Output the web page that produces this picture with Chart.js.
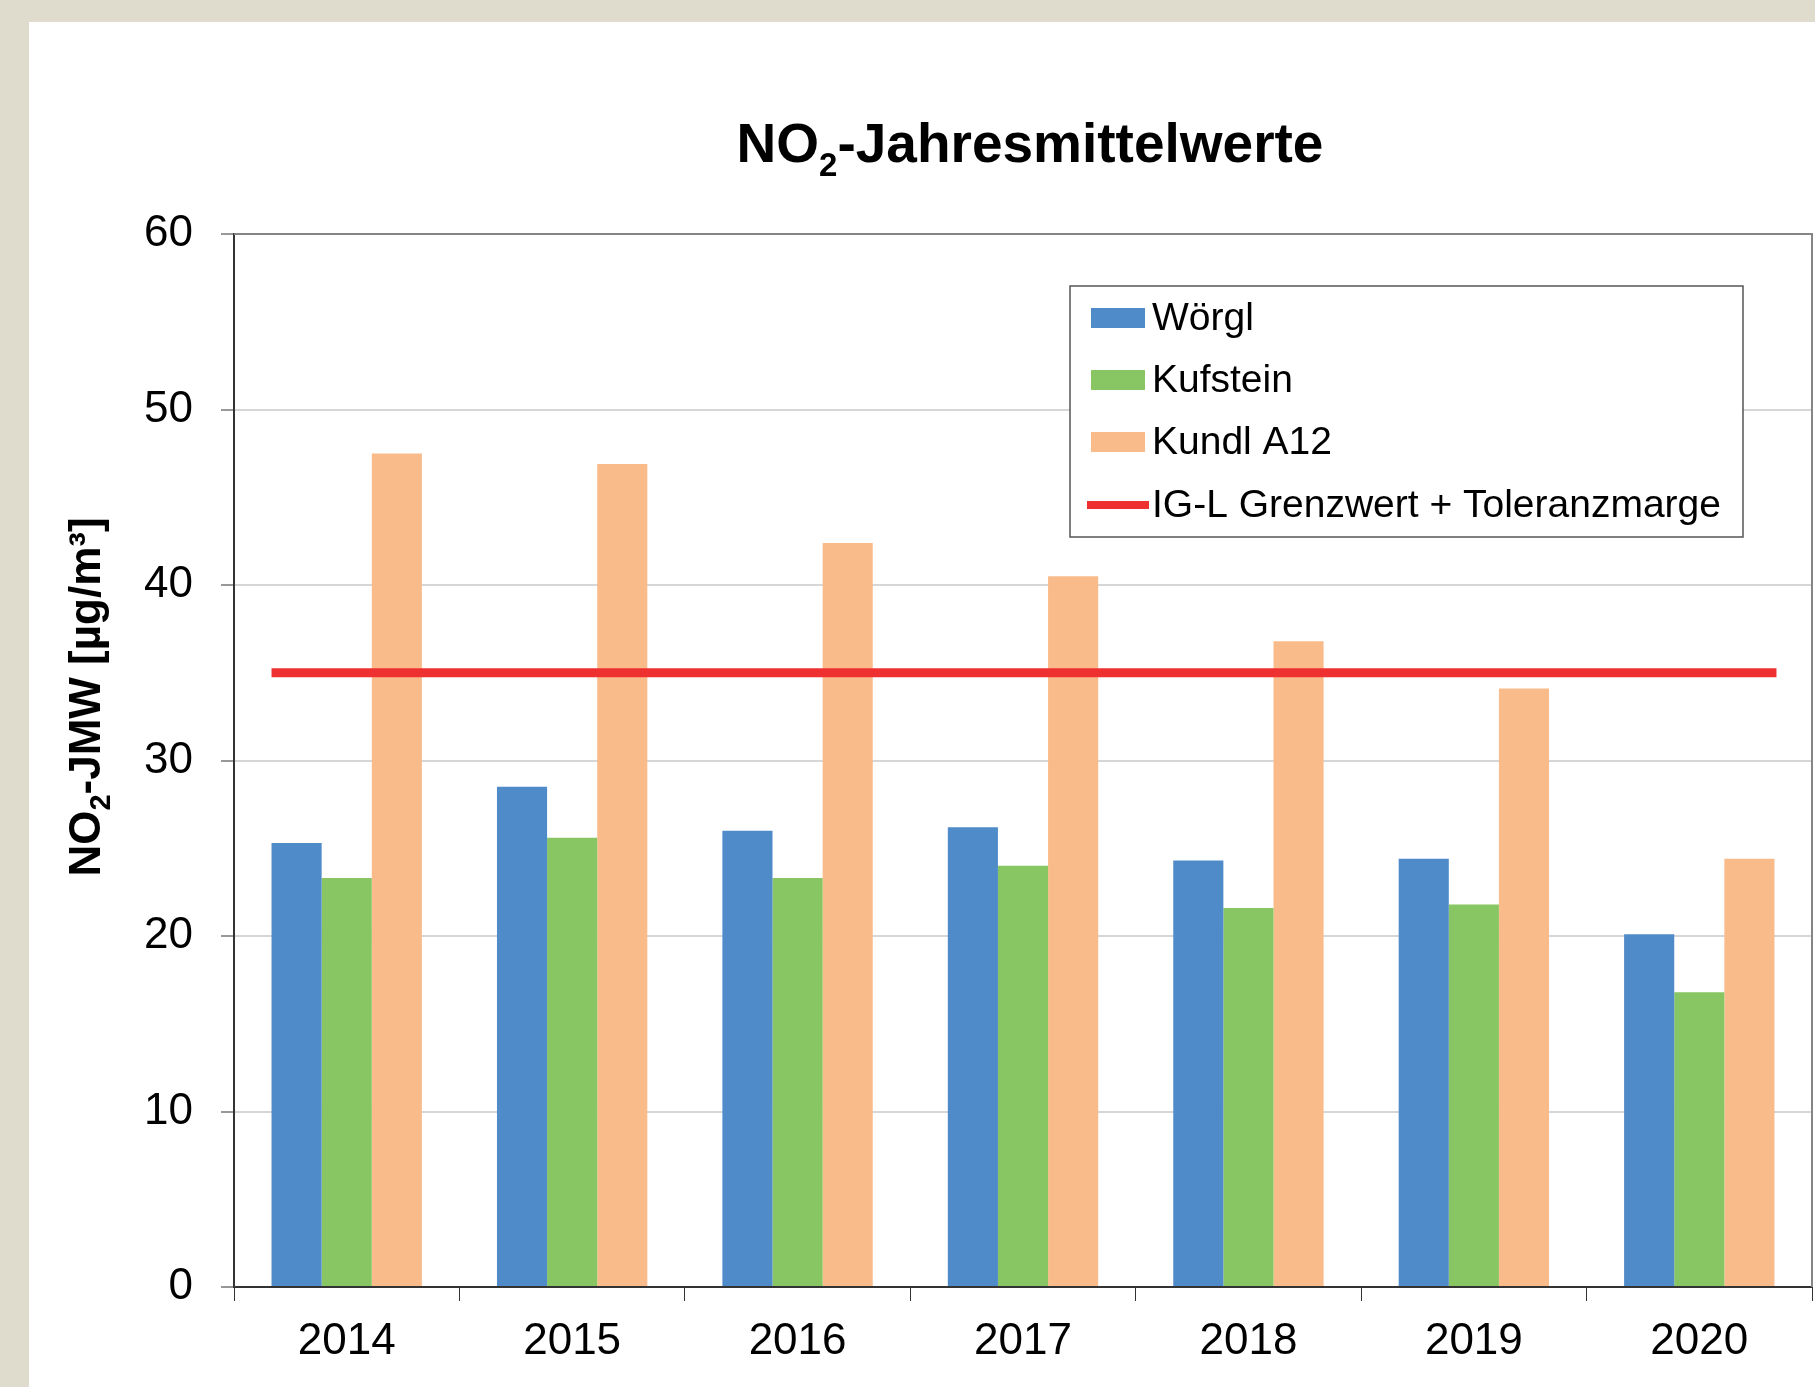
<!DOCTYPE html>
<html>
<head>
<meta charset="utf-8">
<script src="https://cdn.jsdelivr.net/npm/chart.js@4.4.1/dist/chart.umd.min.js"></script>
<style>
  html, body { margin: 0; padding: 0; background: #dfdcce; width: 1815px; height: 1387px; overflow: hidden; }
  #sheet { position: absolute; left: 29px; top: 22px; width: 1786px; height: 1365px; background: #fff; }
  canvas { display: block; }
</style>
</head>
<body>
<div id="sheet"><canvas id="no2" width="1786" height="1365"></canvas></div>
<script>
// Daten
const years = ["2014", "2015", "2016", "2017", "2018", "2019", "2020"];
const woergl = [25.3, 28.5, 26.0, 26.2, 24.3, 24.4, 20.1];
const kufstein = [23.3, 25.6, 23.3, 24.0, 21.6, 21.8, 16.8];
const kundl = [47.5, 46.9, 42.4, 40.5, 36.8, 34.1, 24.4];
const grenzwert = 35;
const grenzwertLabel = "IG-L Grenzwert + Toleranzmarge";
const yMin = 0, yMax = 60, yStep = 10;

const FONT = "'Liberation Sans', Arial, sans-serif";
const RED = "#ee3030";

// Titel mit tiefgestellter 2, Achsentitel gedreht
const titlePlugin = {
  id: "no2Title",
  afterDraw(chart) {
    const ctx = chart.ctx;
    ctx.save();
    ctx.fillStyle = "#000";
    ctx.textBaseline = "alphabetic";
    const big = "bold 55px " + FONT, small = "bold 33px " + FONT;
    const parts = [["NO", big, 0], ["2", small, 14], ["-Jahresmittelwerte", big, 0]];
    let w = 0;
    parts.forEach(p => { ctx.font = p[1]; w += ctx.measureText(p[0]).width; });
    let x = 1001 - w / 2;
    parts.forEach(p => {
      ctx.font = p[1];
      ctx.fillText(p[0], x, 140 + p[2]);
      x += ctx.measureText(p[0]).width;
    });

    const ybig = "bold 44px " + FONT, ysmall = "bold 29px " + FONT;
    const yparts = [["NO", ybig, 0], ["2", ysmall, 10], ["-JMW [µg/m³]", ybig, 0]];
    let yw = 0;
    yparts.forEach(p => { ctx.font = p[1]; yw += ctx.measureText(p[0]).width; });
    ctx.translate(71, 675);
    ctx.rotate(-Math.PI / 2);
    let px = -yw / 2;
    yparts.forEach(p => {
      ctx.font = p[1];
      ctx.fillText(p[0], px, p[2]);
      px += ctx.measureText(p[0]).width;
    });
    ctx.restore();
  }
};

// Rahmen oben/rechts + Grenzwertlinie
const framePlugin = {
  id: "frame",
  afterDatasetsDraw(chart) {
    const { ctx, chartArea: a, scales } = chart;
    ctx.save();
    ctx.strokeStyle = "#858585";
    ctx.lineWidth = 2;
    ctx.beginPath();
    ctx.moveTo(a.left, a.top);
    ctx.lineTo(a.right, a.top);
    ctx.lineTo(a.right, a.bottom);
    ctx.stroke();

    // Grenzwert: vom ersten bis zum letzten Balken
    const first = chart.getDatasetMeta(0).data[0];
    const lastMeta = chart.getDatasetMeta(chart.data.datasets.length - 1);
    const last = lastMeta.data[lastMeta.data.length - 1];
    const y = scales.y.getPixelForValue(grenzwert);
    ctx.strokeStyle = RED;
    ctx.lineWidth = 9;
    ctx.beginPath();
    ctx.moveTo(first.x - first.width / 2, y);
    ctx.lineTo(last.x + last.width / 2 + 2, y);
    ctx.stroke();
    ctx.restore();
  }
};

// Legende im Diagramm
const legendPlugin = {
  id: "boxLegend",
  afterDraw(chart) {
    const { ctx, chartArea: a } = chart;
    const bx = a.right - 742, by = a.top + 52, bw = 673, bh = 251;
    ctx.save();
    ctx.fillStyle = "#fff";
    ctx.fillRect(bx, by, bw, bh);
    ctx.strokeStyle = "#555";
    ctx.lineWidth = 1.5;
    ctx.strokeRect(bx, by, bw, bh);
    ctx.font = "39px " + FONT;
    ctx.textBaseline = "middle";
    const rows = [32, 94, 156, 219];
    chart.data.datasets.forEach((ds, i) => {
      const cy = by + rows[i];
      ctx.fillStyle = ds.backgroundColor;
      ctx.fillRect(bx + 21, cy - 10, 54, 20);
      ctx.fillStyle = "#000";
      ctx.fillText(ds.label, bx + 82, cy + 1);
    });
    const cy = by + rows[3];
    ctx.fillStyle = RED;
    ctx.fillRect(bx + 17, cy - 4, 62, 8);
    ctx.fillStyle = "#000";
    ctx.fillText(grenzwertLabel, bx + 82, cy + 1);
    ctx.restore();
  }
};

new Chart(document.getElementById("no2"), {
  type: "bar",
  data: {
    labels: years,
    datasets: [
      { label: "Wörgl", data: woergl, backgroundColor: "#4f8ac9" },
      { label: "Kufstein", data: kufstein, backgroundColor: "#88c663" },
      { label: "Kundl A12", data: kundl, backgroundColor: "#fabb8b" }
    ]
  },
  options: {
    responsive: false,
    animation: false,
    layout: { padding: { top: 212, right: 3, left: 0, bottom: 0 } },
    datasets: { bar: { categoryPercentage: 0.667, barPercentage: 1.0, borderWidth: 0 } },
    plugins: {
      legend: { display: false },
      title: { display: false },
      tooltip: { enabled: false }
    },
    scales: {
      x: {
        offset: true,
        grid: { offset: true, drawOnChartArea: false, drawTicks: true, tickLength: 14, tickColor: "#333", tickWidth: 1 },
        border: { display: true, color: "#333", width: 2 },
        ticks: { color: "#000", font: { family: FONT, size: 44 }, padding: 14, maxRotation: 0 },
        afterFit: (s) => { s.height = 100; }
      },
      y: {
        min: yMin,
        max: yMax,
        grid: { color: "#d6d6d6", lineWidth: 2, drawTicks: true, tickLength: 13, tickColor: "#333", tickWidth: 1 },
        border: { display: true, color: "#333", width: 2 },
        ticks: { stepSize: yStep, color: "#000", font: { family: FONT, size: 44 }, padding: 28 },
        afterFit: (s) => { s.width = 205; }
      }
    }
  },
  plugins: [framePlugin, titlePlugin, legendPlugin]
});
</script>
</body>
</html>
